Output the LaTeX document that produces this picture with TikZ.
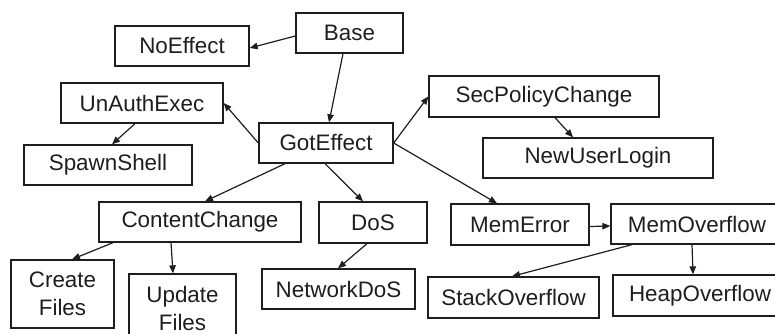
\documentclass[tikz,border=0pt]{standalone}
\usepackage{fontspec}
\setmainfont{Liberation Sans}
\usetikzlibrary{arrows.meta}
\definecolor{ink}{RGB}{30,30,30}
\begin{document}
\begin{tikzpicture}[x=1pt,y=-1pt,
  box/.style={draw=ink,line width=1.3pt,rectangle,inner sep=0pt,text=ink,
    font=\fontsize{22.4}{28}\selectfont,align=center},
  arr/.style={draw=ink,line width=1.2pt,-{Triangle[length=8pt,width=6.5pt]}}]
\useasboundingbox (0,0) rectangle (775,334);
\clip (0,0) rectangle (775,334);
\node[box,minimum width=107pt,minimum height=40pt] (base) at (349.5,33) {Base};
\node[box,minimum width=134pt,minimum height=40pt] (noeffect) at (182,46) {NoEffect};
\node[box,minimum width=162pt,minimum height=40pt] (unauth) at (142,103) {UnAuthExec};
\node[box,minimum width=134pt,minimum height=40pt] (got) at (326,143) {GotEffect};
\node[box,minimum width=168pt,minimum height=40pt] (spawn) at (108,165) {SpawnShell};
\node[box,minimum width=230pt,minimum height=41pt] (secpol) at (544,96.5) {SecPolicyChange};
\node[box,minimum width=230pt,minimum height=40pt] (newuser) at (598,158) {NewUserLogin};
\node[box,minimum width=202pt,minimum height=40pt] (content) at (200,222) {ContentChange};
\node[box,minimum width=108pt,minimum height=41pt] (dos) at (373,222.5) {DoS};
\node[box,minimum width=103pt,minimum height=68pt] (create) at (62.5,294) {Create\\Files};
\node[box,minimum width=107pt,minimum height=68pt] (update) at (182.5,308) {Update\\Files};
\node[box,minimum width=153pt,minimum height=40pt] (netdos) at (338.5,289) {NetworkDoS};
\node[box,minimum width=138pt,minimum height=41pt] (memerr) at (520,224.5) {MemError};
\node[box,minimum width=172pt,minimum height=40pt] (memov) at (697,224) {MemOverflow};
\node[box,minimum width=171pt,minimum height=41pt] (stack) at (513.5,297.5) {StackOverflow};
\node[box,minimum width=174pt,minimum height=41pt] (heap) at (700,295.5) {HeapOverflow};

\draw[arr] ([yshift=-3pt]base.west) -- ([yshift=-2pt]noeffect.east);
\draw[arr] ([xshift=-6.5pt]base.south) -- ([xshift=3pt]got.north);
\draw[arr] (got.west) -- (unauth.east);
\draw[arr] ([xshift=-7pt]unauth.south) -- ([xshift=4pt]spawn.north);
\draw[arr] (got.east) -- (secpol.west);
\draw[arr] ([xshift=11pt]secpol.south) -- ([xshift=-25pt]newuser.north);
\draw[arr] (got.east) -- ([xshift=-23pt]memerr.north);
\draw[arr] ([xshift=-41pt]got.south) -- ([xshift=5pt]content.north);
\draw[arr] ([xshift=-1pt]got.south) -- ([xshift=-10pt]dos.north);
\draw[arr] ([xshift=-87pt]content.south) -- ([xshift=9.5pt]create.north);
\draw[arr] ([xshift=-29pt]content.south) -- ([xshift=-9.5pt]update.north);
\draw[arr] ([xshift=-6pt]dos.south) -- ([xshift=-0.5pt]netdos.north);
\draw[arr] ([yshift=-2pt]memerr.east) -- ([yshift=-2pt]memov.west);
\draw[arr] ([xshift=-65pt]memov.south) -- ([xshift=-1.5pt]stack.north);
\draw[arr] ([xshift=-5pt]memov.south) -- ([xshift=-7pt]heap.north);
\end{tikzpicture}
\end{document}
